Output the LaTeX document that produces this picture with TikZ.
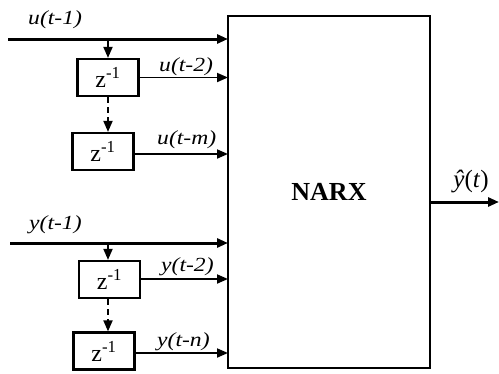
\documentclass[tikz,border=0pt]{standalone}
\usepackage{fontspec}
\setmainfont{Liberation Serif}
\usetikzlibrary{arrows.meta}
\begin{document}
\begin{tikzpicture}[x=1pt,y=-1pt,
  dbox/.style={draw,line width=2.2pt,minimum width=61pt,minimum height=37pt,inner sep=0pt,font=\fontsize{24}{24}\selectfont},
  arr/.style={-{Triangle[length=11pt,width=9pt]}},
  thickln/.style={line width=3pt},
  thinln/.style={line width=1.8pt},
  dash5/.style={dash pattern=on 6pt off 4pt},
  lbl/.style={font=\fontsize{20}{20}\selectfont\itshape,inner sep=0pt,xscale=1.18}]
\useasboundingbox (0,0) rectangle (499,373);
% main box
\node[draw,line width=2.8pt,minimum width=202pt,minimum height=352pt,inner sep=0pt,font=\fontsize{26}{26}\selectfont\bfseries] (narx) at (329,192) {NARX};
% delay boxes
\node[dbox] (d1) at (108,77.5) {z\textsuperscript{-1}};
\node[dbox] (d2) at (103,151.5) {z\textsuperscript{-1}};
\node[dbox] (d3) at (109.5,279.5) {z\textsuperscript{-1}};
\node[dbox] (d4) at (104,351) {z\textsuperscript{-1}};
% coordinates
\coordinate (us) at (8,39);
\coordinate (ue) at (228,39);
\coordinate (ub) at (108,39);
\coordinate (ys) at (10,243);
\coordinate (ye) at (228,243);
\coordinate (yb) at (108,243);
\coordinate (o1) at (228,77.5);
\coordinate (o2) at (228,154);
\coordinate (o3) at (228,279);
\coordinate (o4) at (228,353);
\coordinate (os) at (430,202);
\coordinate (oe) at (499,202);
% input lines
\draw[thickln,arr] (us) -- (ue);
\draw[thinln,arr] (ub) -- (d1.north);
\draw[thinln,arr,dash5] (d1.south) -- (d1.south |- d2.north);
\draw[thinln,arr] (d1.east) -- (o1);
\draw[thinln,arr] (d2.east |- o2) -- (o2);
\draw[thickln,arr] (ys) -- (ye);
\draw[thinln,arr] (yb) -- (d3.north -| yb);
\draw[thinln,arr,dash5] (d3.south -| yb) -- (d4.north -| yb);
\draw[thinln,arr] (d3.east |- o3) -- (o3);
\draw[thinln,arr] (d4.east |- o4) -- (o4);
\draw[thickln,arr] (os) -- (oe);
% labels
\node[lbl,anchor=base west] (l1) at (28,24) {u(t-1)};
\node[lbl,anchor=base west] (l2) at (159,71) {u(t-2)};
\node[lbl,anchor=base west] (l3) at (157,144) {u(t-m)};
\node[lbl,anchor=base west] (l4) at (29,229) {y(t-1)};
\node[lbl,anchor=base west] (l5) at (161,271) {y(t-2)};
\node[lbl,anchor=base west] (l6) at (157,346) {y(t-n)};
\node[font=\fontsize{25}{25}\selectfont,inner sep=0pt,anchor=base] (yh) at (471,187) {\textit{ŷ}(\textit{t})};
\end{tikzpicture}
\end{document}
